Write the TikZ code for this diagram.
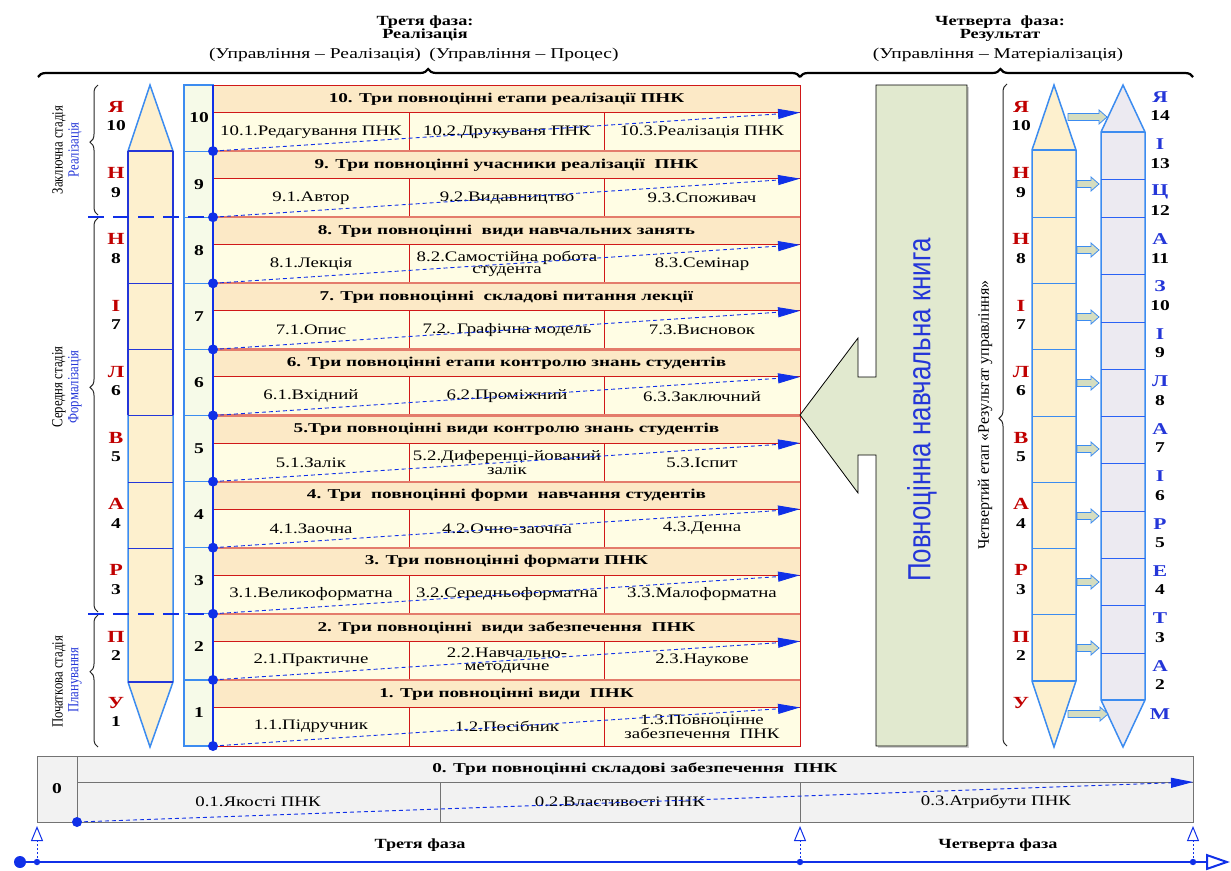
\documentclass[tikz,border=0pt]{standalone}
\usepackage{fontspec}
\setmainfont{Liberation Serif}[FakeStretch=1.3]
\newfontfamily\hdrf{Liberation Serif}[FakeStretch=1.42]
\newfontfamily\plainf{Liberation Serif}
\newfontfamily\condf{Liberation Serif}[FakeStretch=0.82]
\newfontfamily\sansc{Liberation Sans}[FakeStretch=0.81]
\usetikzlibrary{arrows.meta,decorations.pathreplacing,calc}
\definecolor{hdrfill}{HTML}{FCE9C6}
\definecolor{subfill}{HTML}{FFFDE4}
\definecolor{tred}{HTML}{D01818}
\definecolor{sepc}{HTML}{E47C6C}
\definecolor{numfill}{HTML}{F6FAE8}
\definecolor{pen1}{HTML}{FDF0CE}
\definecolor{pen2}{HTML}{ECEAF1}
\definecolor{garrow}{HTML}{E1E9CF}
\definecolor{zfill}{HTML}{F2F2F2}
\definecolor{dblue}{HTML}{1030E8}
\definecolor{lblue}{HTML}{3C8CF0}
\definecolor{lred}{HTML}{C00000}
\definecolor{bluel}{HTML}{2436D8}
\definecolor{barrowc}{HTML}{D5DDC0}
\newcommand\tabrow[5]{%
  \pgfmathsetmacro\yt{746-66.1*#1}%
  \pgfmathsetmacro\yh{\yt+27.5}%
  \pgfmathsetmacro\yb{\yt+66.1}%
  \fill[hdrfill] (213,\yt) rectangle (800,\yh);
  \fill[subfill] (213,\yh) rectangle (800,\yb);
  \draw[tred, line width=0.9] (213,\yt) rectangle (800,\yb) (213,\yh) -- (800,\yh) (409,\yh) -- (409,\yb) (604,\yh) -- (604,\yb);
  \node[hdr] (h#1) at (506.5,\yt+14) {#2};
  \node[sub] (a#1) at (311,{(\yh+\yb)/2}) {#3};
  \node[sub] (b#1) at (507,{(\yh+\yb)/2}) {#4};
  \node[sub] (c#1) at (702,{(\yh+\yb)/2}) {#5};
  \coordinate (s#1) at (213,\yb);
  \coordinate (e#1) at (800,\yh);
  \node[num] (n#1) at (199,{(\yt+\yb)/2}) {#1};
}
\newcommand\blkarrow[3]{%
  \filldraw[fill=barrowc, draw=lblue, line width=0.8] (#1,#3-3.5) -- (#2-8,#3-3.5) -- (#2-8,#3-7) -- (#2,#3) -- (#2-8,#3+7) -- (#2-8,#3+3.5) -- (#1,#3+3.5) -- cycle;
}
\begin{document}
\begin{tikzpicture}[x=1pt,y=-1pt,
  hdr/.style={font=\hdrf\bfseries\fontsize{13.5}{12}\selectfont, inner sep=0pt},
  sub/.style={font=\fontsize{14.5}{12.5}\selectfont, inner sep=0pt, align=center},
  num/.style={font=\bfseries\fontsize{15}{15}\selectfont, inner sep=0pt},
  lett/.style={font=\bfseries\fontsize{17}{17}\selectfont, text=lred, inner sep=0pt},
  blett/.style={font=\bfseries\fontsize{16.5}{16}\selectfont, text=bluel, inner sep=0pt},
  ttl/.style={font=\bfseries\fontsize{14}{14}\selectfont, inner sep=0pt},
  par/.style={font=\fontsize{15}{14}\selectfont, inner sep=0pt},
  stg/.style={font=\condf\fontsize{15.5}{15}\selectfont, rotate=90, inner sep=0pt},
  dasharrow/.style={dblue, line width=0.9, dash pattern=on 4pt off 3pt, -{Triangle[length=22pt,width=10pt]}},
  brc/.style={decorate, line width=1, draw=black!85},
]
\useasboundingbox (0,0) rectangle (1231,870);

% ---------- top titles and braces ----------
\node[ttl] (t3a) at (425,22) {Третя фаза:};
\node[ttl] (t3b) at (425,35) {Реалізація};
\node[par] (t3c) at (315,55) {(Управління – Реалізація)};
\node[par] (t3d) at (524,55) {(Управління – Процес)};
\node[ttl] (t4a) at (1000,22) {Четверта \ фаза:};
\node[ttl] (t4b) at (1000,35) {Результат};
\node[par] (t4c) at (998,55) {(Управління – Матеріалізація)};
\draw[decorate, decoration={brace, amplitude=8pt, aspect=0.512}, line width=2.2] (38,77) -- (800,77);
\draw[decorate, decoration={brace, amplitude=8pt, aspect=0.51}, line width=2.2] (800,77) -- (1193,77);

% ---------- left stage labels ----------
\node[stg] (z1) at (59,150) {Заключна стадія};
\node[stg, text=bluel] (z2) at (75,150) {Реалізація};
\node[stg] (m1) at (59,387) {Середня стадія};
\node[stg, text=bluel] (m2) at (75,387) {Формалізація};
\node[stg] (p1) at (59,682) {Початкова стадія};
\node[stg, text=bluel] (p2) at (75,680) {Планування};
\draw[brc, decoration={brace, amplitude=8pt, aspect=0.56}] (98,215) -- (98,85);
\draw[brc, decoration={brace, amplitude=8pt, aspect=0.57}] (98,612) -- (98,218);
\draw[brc, decoration={brace, amplitude=8pt, aspect=0.57}] (98,747) -- (98,615);

% ---------- left letters ----------
\foreach \L [count=\k from 0] in {Я,Н,Н,І,Л,В,А,Р,П,У} {
  \pgfmathtruncatemacro\nn{10-\k}
  \node[lett] (ll\k) at (116,{107+66.2*\k}) {\L};
  \node[num] (ln\k) at (116,{126+66.2*\k}) {\nn};
}

% ---------- left pencil ----------
\fill[pen1] (150,85) -- (173,151) -- (173,682) -- (150,747) -- (128,682) -- (128,151) -- cycle;
\draw[lblue, line width=1.5] (150,85) -- (173,151) -- (173,682) -- (150,747) -- (128,682) -- (128,151) -- cycle;
\draw[bluel, line width=1.5] (128,151) -- (128,415) (173,151) -- (173,415);
\foreach \yy in {283,349,415,482,548} \draw[bluel, line width=0.9] (128,\yy) -- (173,\yy);
\draw[bluel, line width=2] (128,151) -- (173,151) (128,682) -- (173,682);

% ---------- number column ----------
\fill[numfill] (184,85) rectangle (213,746);
\draw[lblue, line width=1.5] (184,85) rectangle (213,746);
\foreach \i in {1,...,9} \draw[lblue, line width=1.2] (184,{746-66.1*\i}) -- (213,{746-66.1*\i});

% ---------- table ----------
\tabrow{10}{10. Три повноцінні етапи реалізації ПНК}{10.1.Редагування ПНК}{10.2.Друкуваня ПНК}{10.3.Реалізація ПНК}
\tabrow{9}{9. Три повноцінні учасники реалізації \ ПНК}{9.1.Автор}{9.2.Видавництво}{9.3.Споживач}
\tabrow{8}{8. Три повноцінні \ види навчальних занять}{8.1.Лекція}{8.2.Самостійна робота\\студента}{8.3.Семінар}
\tabrow{7}{7. Три повноцінні \ складові питання лекції}{7.1.Опис}{7.2. Графічна модель}{7.3.Висновок}
\tabrow{6}{6. Три повноцінні етапи контролю знань студентів}{6.1.Вхідний}{6.2.Проміжний}{6.3.Заключний}
\tabrow{5}{5.Три повноцінні види контролю знань студентів}{5.1.Залік}{5.2.Диференці-йований\\залік}{5.3.Іспит}
\tabrow{4}{4. Три \ повноцінні форми \ навчання студентів}{4.1.Заочна}{4.2.Очно-заочна}{4.3.Денна}
\tabrow{3}{3. Три повноцінні формати ПНК}{3.1.Великоформатна}{3.2.Середньоформатна}{3.3.Малоформатна}
\tabrow{2}{2. Три повноцінні \ види забезпечення \ ПНК}{2.1.Практичне}{2.2.Навчально-\\методичне}{2.3.Наукове}
\tabrow{1}{1. Три повноцінні види \ ПНК}{1.1.Підручник}{1.2.Посібник}{1.3.Повноцінне\\забезпечення \ ПНК}
\foreach \i in {1,...,9} \draw[sepc, line width=2.2] (213,{746-66.1*\i}) -- (800,{746-66.1*\i});
\draw[dblue, line width=2] (213,85) -- (213,746);
\foreach \i in {1,...,10} {
  \draw[dasharrow] (s\i) -- (e\i);
  \fill[dblue] (s\i) circle (5);
}
\draw[dblue, line width=2, dash pattern=on 16pt off 9pt] (88,216.8) -- (213,216.8);
\draw[dblue, line width=2, dash pattern=on 16pt off 9pt] (88,614.4) -- (213,614.4);

% ---------- green big arrow ----------
\fill[black!18] ($(876,85)+(2,2)$) -- ++(91,0) -- ++(0,661) -- ++(-91,0) -- cycle;
\filldraw[fill=garrow, draw=black, line width=0.8] (876,85) -- (967,85) -- (967,746) -- (876,746) -- (876,455) -- (858,455) -- (858,493) -- (800,415) -- (858,338) -- (858,377) -- (876,377) -- cycle;
\node[font=\sansc\fontsize{32}{32}\selectfont, text=bluel, rotate=90, inner sep=0pt] (book) at (922,410) {Повноцінна навчальна книга};

% ---------- right brace and label ----------
\node[font=\plainf\fontsize{16}{16}\selectfont, rotate=90, inner sep=0pt] (stage4) at (985,415) {Четвертий етап «Результат управління»};
\draw[brc, decoration={brace, amplitude=8pt, aspect=0.495}] (1007,746) -- (1007,84);

% ---------- right pencil 1 ----------
\fill[pen1] (1054,85) -- (1076,150) -- (1076,681) -- (1054,747) -- (1032,681) -- (1032,150) -- cycle;
\draw[lblue, line width=1.5] (1054,85) -- (1076,150) -- (1076,681) -- (1054,747) -- (1032,681) -- (1032,150) -- cycle;
\foreach \yy in {217,283,349,416,482,548,614} \draw[lblue, line width=1] (1032,\yy) -- (1076,\yy);
\draw[lblue, line width=1.8] (1032,150) -- (1076,150) (1032,681) -- (1076,681);
\foreach \L [count=\k from 0] in {Я,Н,Н,І,Л,В,А,Р,П} {
  \pgfmathtruncatemacro\nn{10-\k}
  \node[lett] (rl\k) at (1021,{107+66.2*\k}) {\L};
  \node[num] (rn\k) at (1021,{126+66.2*\k}) {\nn};
}
\node[lett] (rl9) at (1021,703) {У};

% ---------- right pencil 2 ----------
\fill[pen2] (1123,85) -- (1145,132) -- (1145,700) -- (1123,747) -- (1101,700) -- (1101,132) -- cycle;
\draw[lblue, line width=1.5] (1123,85) -- (1145,132) -- (1145,700) -- (1123,747) -- (1101,700) -- (1101,132) -- cycle;
\foreach \yy in {179,217,274,322,369,416,463,511,558,605,653} \draw[lblue!70!blue, line width=1] (1101,\yy) -- (1145,\yy);
\draw[lblue, line width=1.8] (1101,132) -- (1145,132) (1101,700) -- (1145,700);
\foreach \L [count=\k from 0] in {Я,І,Ц,А,З,І,Л,А,І,Р,Е,Т,А} {
  \pgfmathtruncatemacro\nn{14-\k}
  \node[blett] (ql\k) at (1160,{97+47.4*\k}) {\L};
  \node[num] (qn\k) at (1160,{116+47.4*\k}) {\nn};
}
\node[blett] (ql13) at (1160,714) {М};

% ---------- block arrows between pencils ----------
\blkarrow{1068}{1107}{117}
\foreach \yy in {184,250,317,383,449,516,582,648} {\blkarrow{1077}{1099}{\yy}}
\blkarrow{1068}{1108}{714}

% ---------- bottom row 0 ----------
\fill[zfill] (37,756) rectangle (1193,822);
\draw[black!55, line width=1] (37,756) rectangle (1193,822) (77,756) -- (77,822) (77,782) -- (1193,782) (440,782) -- (440,822) (800,782) -- (800,822);
\node[num] (n0) at (57,789) {0};
\node[hdr] (h0) at (635,769) {0. Три повноцінні складові забезпечення \ ПНК};
\node[sub] (a0) at (258,802) {0.1.Якості ПНК};
\node[sub] (b0) at (620,802) {0.2.Властивості ПНК};
\node[sub] (c0) at (996,802) {0.3.Атрибути ПНК};
\coordinate (s0) at (77,822);
\coordinate (e0) at (1193,782);
\draw[dasharrow] (s0) -- (e0);
\fill[dblue] (s0) circle (5);

% ---------- timeline ----------
\coordinate (tl0) at (20,862);
\coordinate (tlA) at (37,862);
\coordinate (tlB) at (800,862);
\coordinate (tlC) at (1193,862);
\coordinate (tlEnd) at (1230,862);
\coordinate (upA) at (37,826);
\coordinate (upB) at (800,826);
\coordinate (upC) at (1193,826);
\draw[dblue, line width=2.6, -{Triangle[open, length=24pt, width=16pt, line width=2pt]}] (tl0) -- (tlEnd);
\foreach \p in {A,B,C} \draw[dblue, line width=0.9, dash pattern=on 2pt off 2pt, -{Triangle[open, length=15pt, width=12pt, line width=1pt]}] (tl\p) -- (up\p);
\fill[dblue] (tl0) circle (6);
\foreach \p in {A,B,C} \fill[dblue] (tl\p) circle (3.2);
\node[ttl] (ph3) at (420,845) {Третя фаза};
\node[ttl] (ph4) at (998,845) {Четверта фаза};
\end{tikzpicture}
\end{document}
